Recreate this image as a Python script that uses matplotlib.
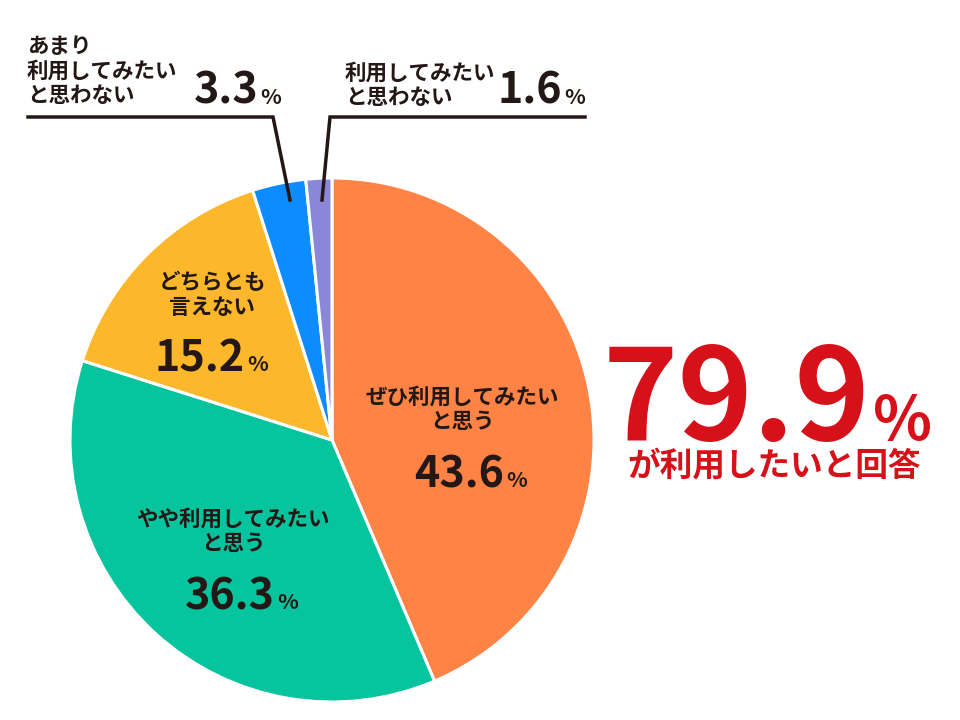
import matplotlib
matplotlib.use("Agg")
import matplotlib.pyplot as plt

plt.rcParams['font.family'] = ['Noto Sans CJK JP', 'DejaVu Sans']

labels = ["ぜひ利用してみたい\nと思う", "やや利用してみたい\nと思う", "どちらとも\n言えない",
          "あまり\n利用してみたい\nと思わない", "利用してみたい\nと思わない"]
values = [43.6, 36.3, 15.2, 3.3, 1.6]
colors = ["#FF8344", "#05C49E", "#FDB72B", "#0C8CFF", "#8B87D8"]
total_value = "79.9"
total_caption = "が利用したいと回答"

W, H = 960, 720
fig = plt.figure(figsize=(9.6, 7.2), dpi=100)
ax = fig.add_axes([0, 0, 1, 1])

def Y(y):
    return H - y

ax.pie(values, colors=colors, startangle=90, counterclock=False,
       center=(332, Y(440)), radius=262,
       wedgeprops=dict(edgecolor='white', linewidth=2.2))
ax.set_xlim(0, W)
ax.set_ylim(0, H)
ax.set_aspect('equal')
ax.axis('off')

dark = "#231815"
numfam = ['Noto Sans CJK JP', 'DejaVu Sans']

def label_block(text, x, y, ha='center'):
    ax.text(x, Y(y), text, ha=ha, va='center', fontsize=15.5, fontweight='bold',
            color=dark, linespacing=1.2)

def number(val, x_right, y, size=31):
    ax.text(x_right, Y(y), val, ha='right', va='baseline', fontsize=size,
            fontweight='bold', color=dark, family=numfam)
    ax.text(x_right + 2, Y(y), "%", ha='left', va='baseline', fontsize=size * 0.5,
            fontweight='bold', color=dark, family=numfam)

# inside labels
label_block(labels[0], 462, 409)
number(f"{values[0]}", 504, 487)
label_block(labels[1], 233, 531)
number(f"{values[1]}", 275, 609)
label_block(labels[2], 212, 295)
number(f"{values[2]}", 245, 371)

# outside labels
label_block(labels[3], 27, 71, ha='left')
number(f"{values[3]}", 258, 104)
label_block(labels[4], 345, 85, ha='left')
number(f"{values[4]}", 562, 104)

# leader lines
ax.plot([28, 273, 290], [Y(117), Y(117), Y(200)], color=dark, lw=2.5, solid_joinstyle='miter')
ax.plot([585, 330, 322], [Y(117), Y(117), Y(200)], color=dark, lw=2.5, solid_joinstyle='miter')

# big total
red = "#D7111A"
ax.text(870, Y(440), total_value, ha='right', va='baseline', fontsize=92,
        fontweight='bold', color=red, family=numfam)
ax.text(873, Y(440), "%", ha='left', va='baseline', fontsize=44,
        fontweight='bold', color=red, family=numfam)
ax.text(774, Y(467), total_caption, ha='center', va='center', fontsize=23.5,
        fontweight='bold', color=red)

fig.savefig("out.png", dpi=100)
